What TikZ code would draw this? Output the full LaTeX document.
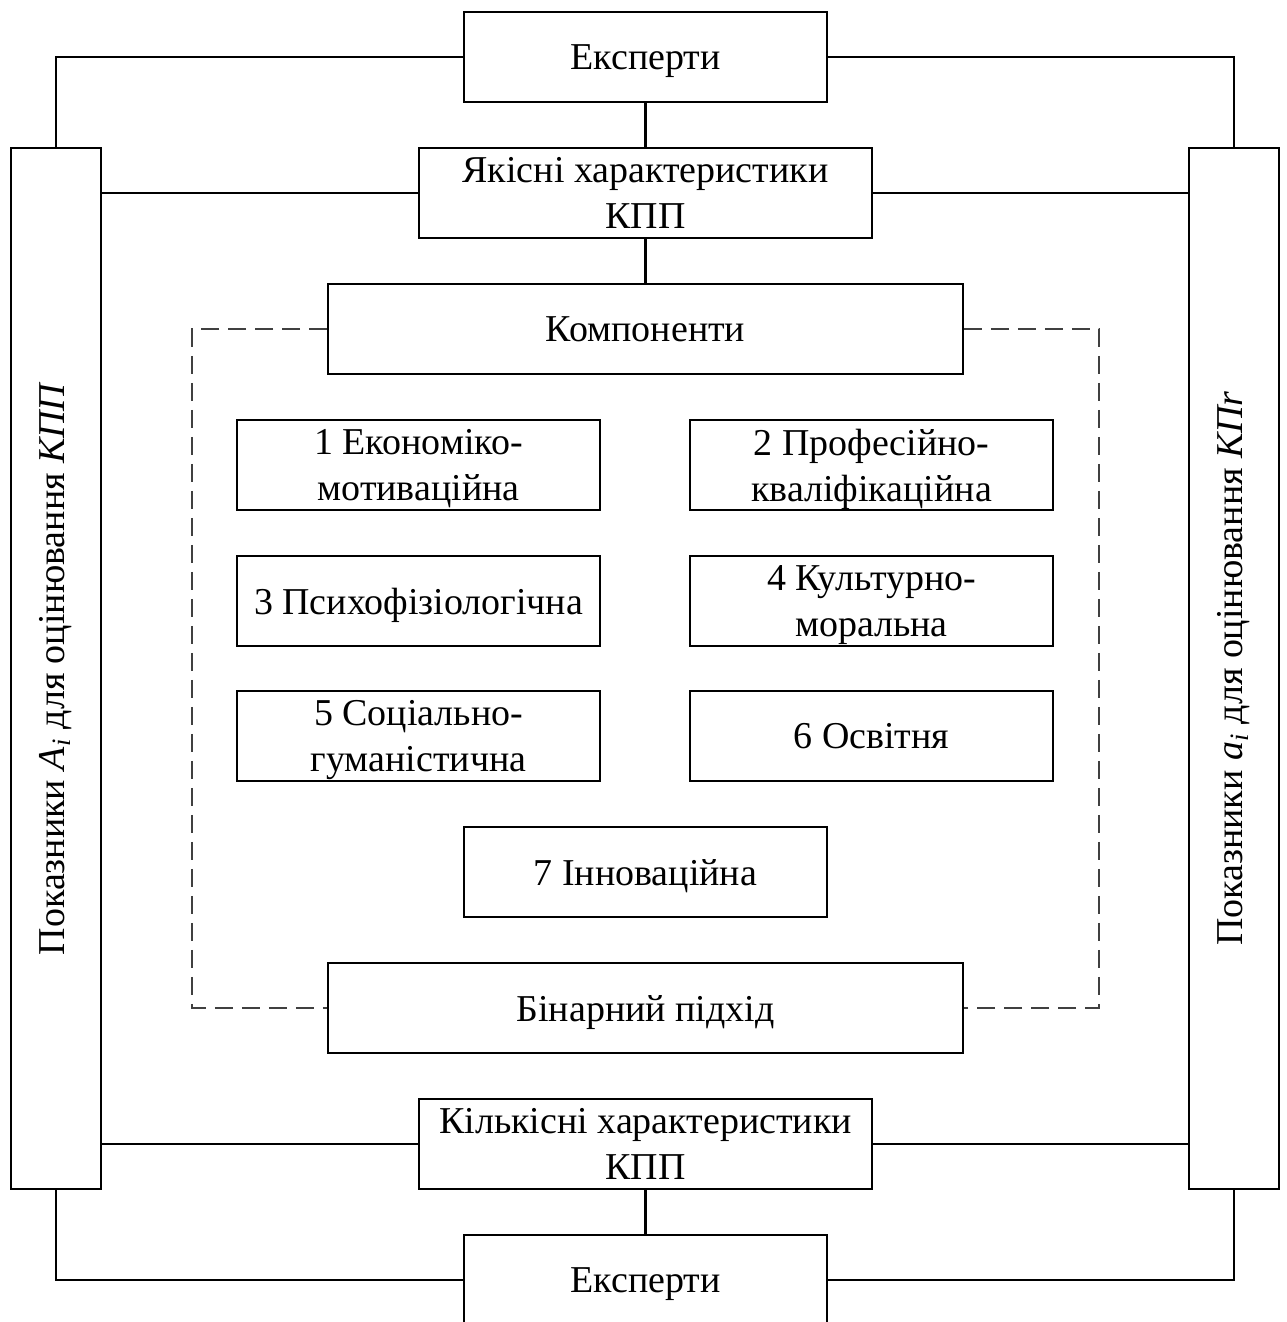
\documentclass[tikz,border=0pt]{standalone}
\usepackage{fontspec}
\setmainfont{Liberation Serif}
\begin{document}
\begin{tikzpicture}[x=0.02cm,y=-0.02cm,
  every node/.style={font=\fontsize{21.6}{26.2}\selectfont},
  box/.style={draw, line width=1.2pt, fill=white, minimum height=1.8cm, inner sep=0pt, align=center, text depth=0pt},
  wbox/.style={box, minimum width=7.26cm},
  mbox/.style={box, minimum width=9.06cm},
  lbox/.style={box, minimum width=12.7cm},
  sidebox/.style={draw, line width=1.2pt, minimum width=1.8cm, minimum height=20.82cm, inner sep=0pt},
  conn/.style={line width=1.2pt},
  dconn/.style={line width=1.2pt, draw=black!75, dash pattern=on 0.36cm off 0.18cm}]
\clip (0,0) rectangle (1286,1322);
\fill[white] (0,0) rectangle (1286,1322);
% nodes
\node[wbox] (ext1) at (645.5,57) {Експерти};
\node[mbox] (yak) at (645.5,193) {Якісні характеристики\\КПП};
\node[lbox] (komp) at (645.5,329) {Компоненти};
\node[wbox] (c1) at (418.5,465) {1 Економіко-\\мотиваційна};
\node[wbox] (c2) at (871.5,465) {2 Професійно-\\кваліфікаційна};
\node[wbox] (c3) at (418.5,601) {3 Психофізіологічна};
\node[wbox] (c4) at (871.5,601) {4 Культурно-\\моральна};
\node[wbox] (c5) at (418.5,736) {5 Соціально-\\гуманістична};
\node[wbox] (c6) at (871.5,736) {6 Освітня};
\node[wbox] (c7) at (645.5,872) {7 Інноваційна};
\node[lbox] (bin) at (645.5,1008) {Бінарний підхід};
\node[mbox] (kil) at (645.5,1144) {Кількісні характеристики\\КПП};
\node[wbox] (ext2) at (645.5,1280) {Експерти};
\node[sidebox] (left) at (56,668.5) {};
\node[rotate=90] (ltext) at (left.center) {Показники \textit{A}\textsubscript{\textit{i}} для оцінювання \textit{КПП}};
\node[sidebox] (right) at (1234,668.5) {};
\node[rotate=90] (rtext) at (right.center) {Показники \textit{a}\textsubscript{\textit{i}} для оцінювання \textit{КПr}};
\coordinate (dl) at (192,0);
\coordinate (dr) at (1099,0);
% connectors
\draw[conn] (ext1.west) -| (left.north);
\draw[conn] (ext1.east) -| (right.north);
\draw[conn] (ext2.west) -| (left.south);
\draw[conn] (ext2.east) -| (right.south);
\draw[conn] (yak.west) -- (yak.west -| left.east);
\draw[conn] (yak.east) -- (yak.east -| right.west);
\draw[conn] (kil.west) -- (kil.west -| left.east);
\draw[conn] (kil.east) -- (kil.east -| right.west);
\draw[conn] (ext1.south) -- (yak.north);
\draw[conn] (yak.south) -- (komp.north);
\draw[conn] (kil.south) -- (ext2.north);
\draw[dconn] (komp.west) -- (komp.west -| dl) -- (bin.west -| dl) -- (bin.west);
\draw[dconn] (komp.east) -- (komp.east -| dr) -- (bin.east -| dr) -- (bin.east);
\end{tikzpicture}
\end{document}
